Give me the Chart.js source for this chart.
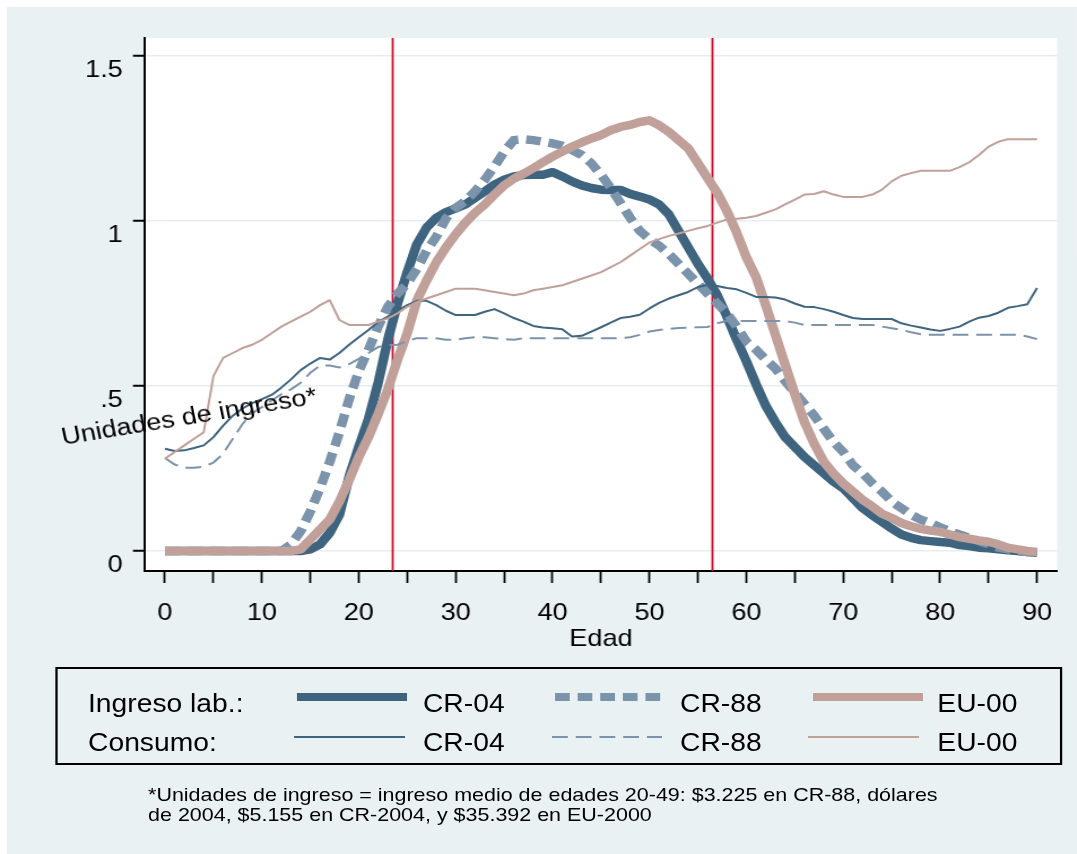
<!DOCTYPE html>
<html>
<head>
<meta charset="utf-8">
<script src="https://cdn.jsdelivr.net/npm/chart.js"></script>
<style>
  html, body { margin: 0; padding: 0; background: #fff; overflow: hidden; }
  /* the whole figure is drawn 953px wide and stretched, like the original */
  #wrap { position: absolute; left: 0; top: 0; width: 953px; height: 854px;
          transform: scaleX(1.13); transform-origin: 0 0;
          font-family: "Liberation Sans", Arial, sans-serif; color: #000; }
  #panel { position: absolute; left: 6.2px; top: 7px; right: 0; bottom: 0; background: #eaf1f3; }
  #c { position: absolute; left: 0; top: 0; }
  #ylab { position: absolute; left: 56px; top: 424.7px; font-size: 24px; line-height: 24px;
          white-space: nowrap; transform: rotate(-10.4deg); transform-origin: 0 20.3px; }
  #legend { position: absolute; left: 48.7px; top: 667px; width: 891px; height: 98px;
            border: 2px solid #000; box-sizing: border-box; }
  .lt { position: absolute; font-size: 25px; line-height: 30px; white-space: nowrap; }
  #keys { position: absolute; left: 0; top: 0; }
  #note { position: absolute; left: 131px; top: 785.3px; font-size: 19px; line-height: 20px; white-space: nowrap; }
</style>
</head>
<body>
<div id="wrap">
  <div id="panel"></div>
  <canvas id="c" width="953" height="854"></canvas>
  <div id="ylab">Unidades de ingreso*</div>
  <div id="legend"></div>
  <div class="lt" style="left:77.9px; top:687.8px">Ingreso lab.:</div>
  <div class="lt" style="left:77.9px; top:726.5px">Consumo:</div>
  <div class="lt" style="left:374.3px; top:687.8px">CR-04</div>
  <div class="lt" style="left:601.8px; top:687.8px">CR-88</div>
  <div class="lt" style="left:829.5px; top:687.8px">EU-00</div>
  <div class="lt" style="left:374.3px; top:726.5px">CR-04</div>
  <div class="lt" style="left:601.8px; top:726.5px">CR-88</div>
  <div class="lt" style="left:829.5px; top:726.5px">EU-00</div>
  <svg id="keys" width="953" height="854">
    <line x1="262.8" y1="697" x2="360.2" y2="697" stroke="#3e6480" stroke-width="8"/>
    <line x1="491.2" y1="697" x2="587.6" y2="697" stroke="#7b93ab" stroke-width="8" stroke-dasharray="13 7"/>
    <line x1="719.5" y1="697" x2="816.8" y2="697" stroke="#c0a099" stroke-width="8"/>
    <line x1="260.2" y1="737" x2="358.4" y2="737" stroke="#3e6480" stroke-width="2"/>
    <line x1="488.5" y1="737" x2="585.8" y2="737" stroke="#7b93ab" stroke-width="2" stroke-dasharray="14 7"/>
    <line x1="715" y1="737" x2="813.3" y2="737" stroke="#c0a099" stroke-width="2"/>
  </svg>
  <div id="note">*Unidades de ingreso = ingreso medio de edades 20-49: $3.225 en CR-88, dólares<br>de 2004, $5.155 en CR-2004, y $35.392 en EU-2000</div>
</div>
<script>
// edades 0..90
const ages = [0,1,2,3,4,5,6,7,8,9,10,11,12,13,14,15,16,17,18,19,20,21,22,23,24,25,26,27,28,29,
  30,31,32,33,34,35,36,37,38,39,40,41,42,43,44,45,46,47,48,49,50,51,52,53,54,55,56,57,58,59,
  60,61,62,63,64,65,66,67,68,69,70,71,72,73,74,75,76,77,78,79,80,81,82,83,84,85,86,87,88,89,90];

// ingreso laboral (unidades de ingreso)
const ingCR04 = [0,0,0,0,0,0,0,0,0,0,0,0,0,0,0,0.005,0.02,0.055,0.11,0.225,
  0.315,0.40,0.51,0.64,0.75,0.845,0.93,0.98,1.01,1.027,1.038,1.05,1.07,1.09,1.11,1.125,1.135,1.139,1.14,1.14,
  1.148,1.135,1.12,1.108,1.1,1.095,1.094,1.094,1.082,1.074,1.065,1.05,1.02,0.97,0.92,0.87,0.825,0.775,0.71,0.64,
  0.575,0.505,0.44,0.39,0.345,0.315,0.285,0.26,0.235,0.21,0.19,0.16,0.13,0.108,0.088,0.068,0.05,0.04,0.033,0.03,
  0.027,0.025,0.018,0.015,0.01,0.008,0.005,0.002,0,-0.003,-0.005];
const ingCR88 = [0,0,0,0,0,0,0,0,0,0,0,0,0,0.02,0.06,0.12,0.19,0.27,0.36,0.46,
  0.545,0.61,0.68,0.74,0.78,0.81,0.855,0.91,0.952,1.008,1.04,1.06,1.09,1.125,1.165,1.21,1.245,1.248,1.245,1.24,
  1.235,1.228,1.215,1.2,1.175,1.14,1.1,1.055,1.01,0.97,0.945,0.925,0.9,0.87,0.84,0.81,0.78,0.75,0.72,0.68,
  0.635,0.61,0.58,0.553,0.515,0.48,0.445,0.41,0.37,0.33,0.3,0.26,0.235,0.205,0.18,0.15,0.13,0.11,0.095,0.085,
  0.072,0.06,0.05,0.04,0.03,0.02,0.01,0.005,0,-0.003,-0.005];
const ingEU00 = [0,0,0,0,0,0,0,0,0,0,0,0,0,0,0.005,0.035,0.065,0.095,0.15,0.215,
  0.285,0.345,0.415,0.49,0.58,0.66,0.76,0.82,0.875,0.92,0.96,0.995,1.025,1.05,1.08,1.108,1.128,1.143,1.16,1.178,
  1.195,1.21,1.225,1.238,1.25,1.26,1.275,1.285,1.291,1.3,1.305,1.29,1.27,1.245,1.22,1.175,1.13,1.085,1.03,0.965,
  0.89,0.83,0.745,0.655,0.565,0.475,0.39,0.325,0.27,0.235,0.205,0.18,0.155,0.135,0.113,0.1,0.085,0.075,0.067,0.062,
  0.058,0.05,0.042,0.037,0.032,0.028,0.02,0.01,0.005,0,-0.003];

// consumo
const conCR04 = [0.31,0.303,0.305,0.312,0.32,0.345,0.38,0.41,0.432,0.448,0.46,0.473,0.495,0.52,0.548,0.568,0.585,0.58,0.6,0.625,
  0.648,0.67,0.694,0.71,0.728,0.745,0.758,0.758,0.745,0.728,0.715,0.715,0.715,0.725,0.733,0.72,0.706,0.695,0.682,0.677,
  0.675,0.672,0.65,0.652,0.665,0.678,0.692,0.706,0.71,0.716,0.735,0.752,0.765,0.775,0.785,0.8,0.806,0.803,0.797,0.793,
  0.782,0.77,0.77,0.768,0.762,0.75,0.74,0.739,0.733,0.725,0.715,0.706,0.703,0.703,0.703,0.703,0.69,0.683,0.677,0.671,
  0.667,0.673,0.68,0.695,0.707,0.712,0.722,0.737,0.742,0.748,0.797];
const conCR88 = [0.282,0.262,0.252,0.252,0.255,0.268,0.295,0.34,0.385,0.418,0.436,0.456,0.475,0.49,0.51,0.54,0.562,0.562,0.556,0.566,
  0.582,0.6,0.618,0.624,0.625,0.637,0.645,0.645,0.645,0.64,0.64,0.645,0.648,0.648,0.645,0.642,0.64,0.645,0.645,0.645,
  0.645,0.645,0.645,0.645,0.645,0.645,0.645,0.645,0.648,0.655,0.665,0.67,0.673,0.676,0.677,0.678,0.679,0.69,0.697,0.697,
  0.697,0.697,0.697,0.697,0.697,0.692,0.685,0.685,0.685,0.685,0.685,0.685,0.685,0.685,0.68,0.675,0.67,0.663,0.657,0.655,
  0.655,0.655,0.655,0.655,0.655,0.655,0.655,0.655,0.655,0.65,0.642];
const conEU00 = [0.28,0.30,0.32,0.34,0.36,0.53,0.585,0.60,0.615,0.625,0.64,0.66,0.68,0.695,0.71,0.725,0.745,0.76,0.70,0.685,
  0.685,0.685,0.695,0.705,0.72,0.74,0.755,0.765,0.775,0.785,0.795,0.795,0.795,0.79,0.785,0.78,0.775,0.78,0.79,0.795,
  0.80,0.805,0.815,0.825,0.835,0.845,0.86,0.875,0.895,0.915,0.935,0.945,0.955,0.962,0.97,0.978,0.985,0.995,1.005,1.007,
  1.01,1.015,1.025,1.035,1.05,1.065,1.08,1.082,1.09,1.08,1.073,1.073,1.073,1.08,1.095,1.12,1.137,1.145,1.152,1.152,
  1.152,1.152,1.163,1.178,1.2,1.225,1.24,1.248,1.248,1.248,1.248];

// líneas verticales rojas (edades)
const markAges = [23.5, 56.5];

// ejes
const xTicks = [0,5,10,15,20,25,30,35,40,45,50,55,60,65,70,75,80,85,90];
const xTickLabels = ['0','','10','','20','','30','','40','','50','','60','','70','','80','','90'];
const yTicks = [0, 0.5, 1, 1.5];
const yTickLabels = ['0', '.5', '1', '1.5'];

const colCR04 = '#3e6480';
const colCR88 = '#7b93ab';
const colEU00 = '#c0a099';

const toPts = (vals) => ages.map((a, i) => ({ x: a, y: vals[i] }));

const series = [
  { label: 'Ingreso CR-04', vals: ingCR04, color: colCR04, width: 8.5, dash: [], order: 6 },
  { label: 'Ingreso CR-88', vals: ingCR88, color: colCR88, width: 8.5, dash: [13, 7], order: 5 },
  { label: 'Ingreso EU-00', vals: ingEU00, color: colEU00, width: 8.5, dash: [], order: 4 },
  { label: 'Consumo CR-04', vals: conCR04, color: colCR04, width: 2, dash: [], order: 3 },
  { label: 'Consumo CR-88', vals: conCR88, color: colCR88, width: 2, dash: [14, 7], order: 2 },
  { label: 'Consumo EU-00', vals: conEU00, color: colEU00, width: 2, dash: [], order: 1 },
];

const plotDecor = {
  id: 'plotDecor',
  beforeDraw(chart) {
    const { ctx, chartArea: a } = chart;
    ctx.save();
    ctx.fillStyle = '#fff';
    ctx.fillRect(a.left, a.top, a.right - a.left, a.bottom - a.top);
    ctx.restore();
  },
  beforeDatasetsDraw(chart) {
    const { ctx, chartArea: a, scales: { x } } = chart;
    ctx.save();
    ctx.strokeStyle = '#c8102e';
    ctx.lineWidth = 1.8;
    markAges.forEach((v) => {
      const px = x.getPixelForValue(v);
      ctx.beginPath();
      ctx.moveTo(px, a.top);
      ctx.lineTo(px, a.bottom);
      ctx.stroke();
    });
    ctx.restore();
  }
};

Chart.defaults.font.family = '"Liberation Sans", Arial, sans-serif';
Chart.defaults.color = '#000';

new Chart(document.getElementById('c'), {
  type: 'line',
  data: {
    datasets: series.map((s) => ({
      label: s.label,
      data: toPts(s.vals),
      borderColor: s.color,
      borderWidth: s.width,
      borderDash: s.dash,
      borderCapStyle: 'butt',
      borderJoinStyle: s.dash.length ? 'miter' : 'round',
      pointRadius: 0,
      tension: 0,
      fill: false,
      order: s.order
    }))
  },
  options: {
    responsive: false,
    animation: false,
    devicePixelRatio: 1,
    layout: { padding: { left: 0, top: 38, right: 17.6, bottom: 200 } },
    plugins: { legend: { display: false }, tooltip: { enabled: false } },
    scales: {
      x: {
        type: 'linear', min: -2.064, max: 92.06,
        afterFit: (s) => { s.height = 83; },
        afterBuildTicks: (s) => { s.ticks = xTicks.map((v) => ({ value: v })); },
        ticks: { callback: (v, i) => xTickLabels[i], autoSkip: false, maxRotation: 0,
                 font: { size: 24 }, color: '#000', padding: 16 },
        grid: { drawOnChartArea: false, tickColor: '#000', tickLength: 12, tickWidth: 1.8 },
        border: { display: true, color: '#000', width: 2 },
        title: { display: true, text: 'Edad', font: { size: 24 }, color: '#000', padding: 0 }
      },
      y: {
        type: 'linear', min: -0.0606, max: 1.5545,
        afterFit: (s) => { s.width = 128.3; },
        afterBuildTicks: (s) => { s.ticks = yTicks.map((v) => ({ value: v })); },
        ticks: { callback: (v, i) => yTickLabels[i], font: { size: 24 }, color: '#000',
                 padding: 9, labelOffset: 14 },
        grid: { color: '#e7eef1', lineWidth: 1.5, tickColor: '#000', tickLength: 10.6, tickWidth: 2 },
        border: { display: true, color: '#000', width: 2 }
      }
    }
  },
  plugins: [plotDecor]
});
</script>
</body>
</html>
